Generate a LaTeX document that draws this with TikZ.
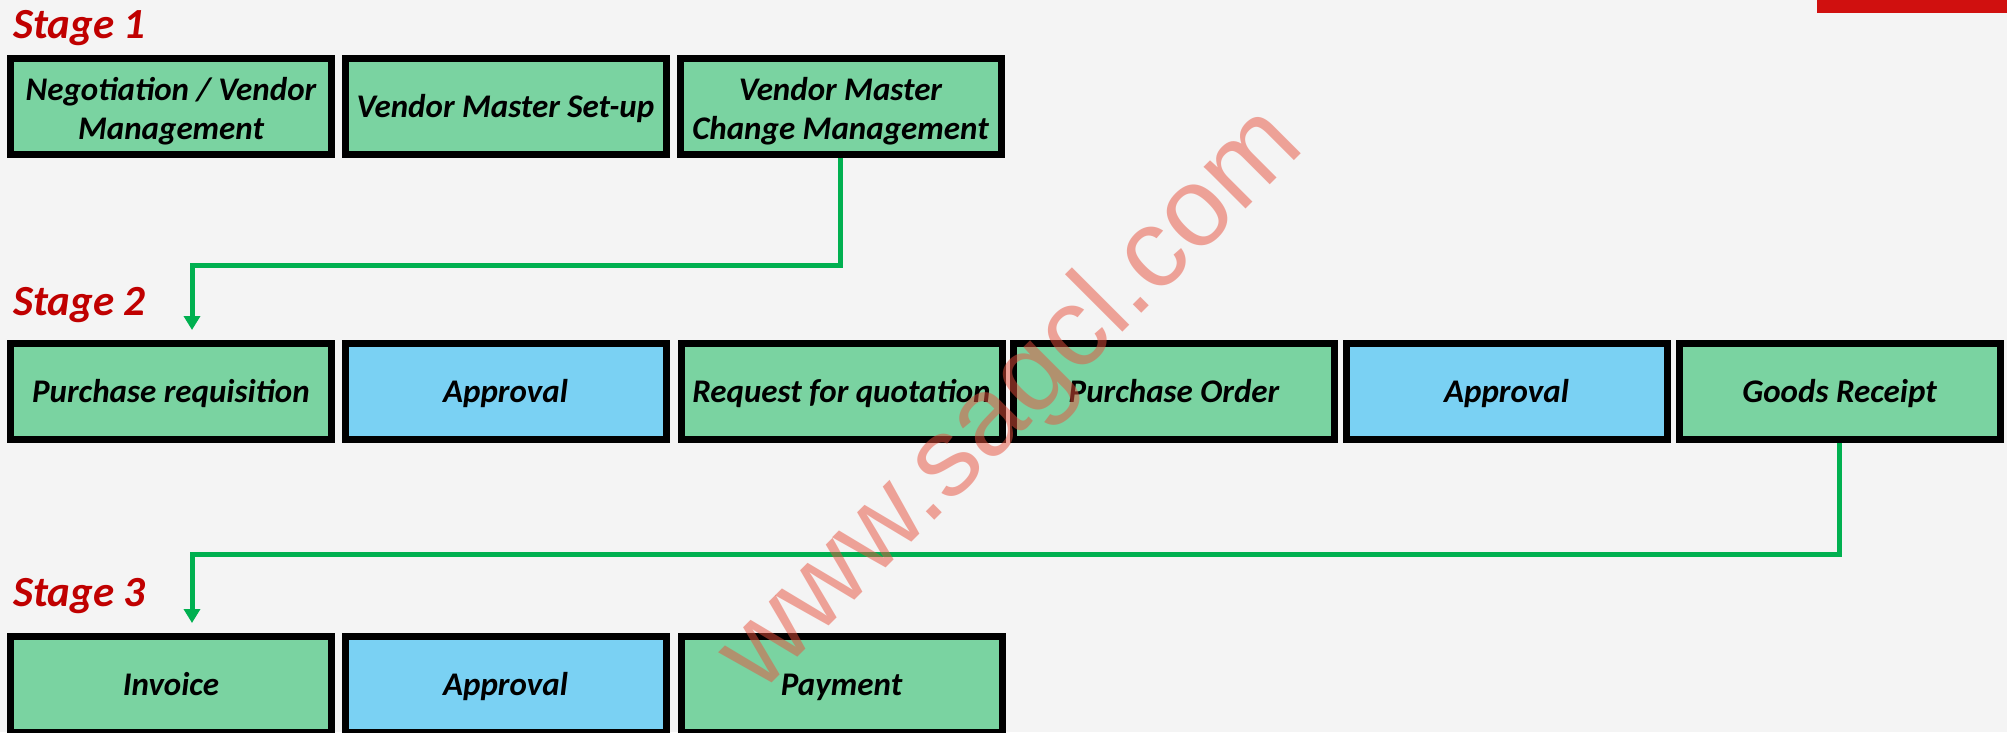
\documentclass[tikz,border=0pt]{standalone}
\usepackage{fontspec}
\setmainfont{Carlito}
\newfontfamily\wmfont{Liberation Sans}
\usetikzlibrary{arrows.meta,calc}
\definecolor{bg}{HTML}{F4F4F4}
\definecolor{boxgreen}{HTML}{7AD3A1}
\definecolor{boxblue}{HTML}{7AD1F3}
\definecolor{stagered}{HTML}{C00000}
\definecolor{linkgreen}{HTML}{00B050}
\definecolor{barred}{HTML}{D0100F}
\definecolor{wmred}{HTML}{E8503C}
\begin{document}
\begin{tikzpicture}[x=1pt,y=-1pt,
  stepbox/.style={draw=black, line width=7pt, minimum width=321pt, minimum height=96pt,
    inner sep=0pt, align=center, text=black, text height=21pt, text depth=0pt,
    font=\fontsize{33}{39}\selectfont\bfseries\itshape},
  twoline/.style={text height=65pt, text depth=0pt},
  greenbox/.style={stepbox, fill=boxgreen},
  bluebox/.style={stepbox, fill=boxblue},
  stagelabel/.style={anchor=base west, inner sep=0pt, text=stagered,
    font=\fontsize{43}{43}\selectfont\bfseries\itshape},
  link/.style={draw=linkgreen, line width=5pt, -{Triangle[width=16pt,length=14pt]}},
]
% canvas and background
\useasboundingbox (0,0) rectangle (2007,732);
\fill[bg] (0,0) rectangle (2007,732);
\fill[barred] (1817,0) rectangle (2007,13);

% stage headings
\node[stagelabel] (s1) at (13,38) {Stage 1};
\node[stagelabel] (s2) at (13,315) {Stage 2};
\node[stagelabel] (s3) at (13,606) {Stage 3};

% stage 1
\node[greenbox,twoline] (n1) at (171,106.5) {Negotiation / Vendor\\Management};
\node[greenbox] (n2) at (505.5,106.5) {Vendor Master Set-up};
\node[greenbox,twoline] (n3) at (840.5,106.5) {Vendor Master\\Change Management};

% stage 2
\node[greenbox] (p1) at (171,391.5) {Purchase requisition};
\node[bluebox]  (p2) at (505.5,391.5) {Approval};
\node[greenbox] (p3) at (841.5,391.5) {Request for quotation};
\node[greenbox] (p4) at (1174,391.5) {Purchase Order};
\node[bluebox]  (p5) at (1506.5,391.5) {Approval};
\node[greenbox] (p6) at (1839.5,391.5) {Goods Receipt};

% stage 3
\node[greenbox] (i1) at (171,684.5) {Invoice};
\node[bluebox]  (i2) at (505.5,684.5) {Approval};
\node[greenbox] (i3) at (841.5,684.5) {Payment};

% hand-over between stages
\draw[link] (n3.south) -- (n3.south |- 0,265) -| ([xshift=21pt,yshift=10pt]p1.north);
\draw[link] (p6.south) -- (p6.south |- 0,554) -| ([xshift=21pt,yshift=10pt]i1.north);

% watermark
\node[rotate=45, text=wmred, opacity=0.5, inner sep=0pt,
  font=\fontsize{112}{112}\selectfont\wmfont] (wm) at (1013,401) {www.sagcl.com};
\end{tikzpicture}
\end{document}
